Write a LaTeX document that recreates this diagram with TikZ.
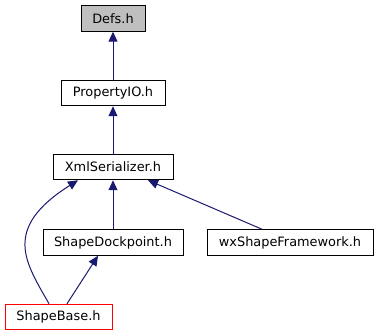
\documentclass[tikz,border=0pt]{standalone}
\usepackage{fontspec}
\setmainfont{DejaVu Sans}
\usetikzlibrary{arrows.meta}
\definecolor{edgeblue}{HTML}{191970}
\definecolor{rootgray}{HTML}{BFBFBF}
\tikzset{
  filebox/.style={draw=black, line width=1pt, fill=white, inner sep=0pt,
    minimum height=25.5pt, font=\fontsize{12.9}{14}\selectfont},
  edge/.style={draw=edgeblue, line width=1pt,
    -{Triangle[length=10pt,width=9pt,fill=edgeblue]}}
}
\begin{document}
\begin{tikzpicture}[x=1pt,y=-1pt]
\useasboundingbox (0,0) rectangle (379,336);
\node[filebox, fill=rootgray, minimum width=64pt] (defs) at (113,18.5) {Defs.h};
\node[filebox, minimum width=104pt] (pio) at (113,93) {PropertyIO.h};
\node[filebox, minimum width=120pt] (xs) at (113,167) {XmlSerializer.h};
\node[filebox, minimum width=140pt] (sd) at (113,242.5) {ShapeDockpoint.h};
\node[filebox, minimum width=166pt] (wx) at (290,242.5) {wxShapeFramework.h};
\node[filebox, draw=red, minimum width=107pt] (sb) at (58.5,317) {ShapeBase.h};

\draw[edge] (pio) -- (defs);
\draw[edge] (xs) -- (pio);
\draw[edge] (sd) -- (xs);
\draw[edge] ([xshift=-28pt]wx.north) -- ([xshift=35pt]xs.south);
\draw[edge] ([xshift=8.5pt]sb.north) -- ([xshift=-15pt]sd.south);
\draw[edge] ([xshift=-9.5pt]sb.north) .. controls (26,263) and (1,229) .. ([xshift=-35pt]xs.south);
\end{tikzpicture}
\end{document}
